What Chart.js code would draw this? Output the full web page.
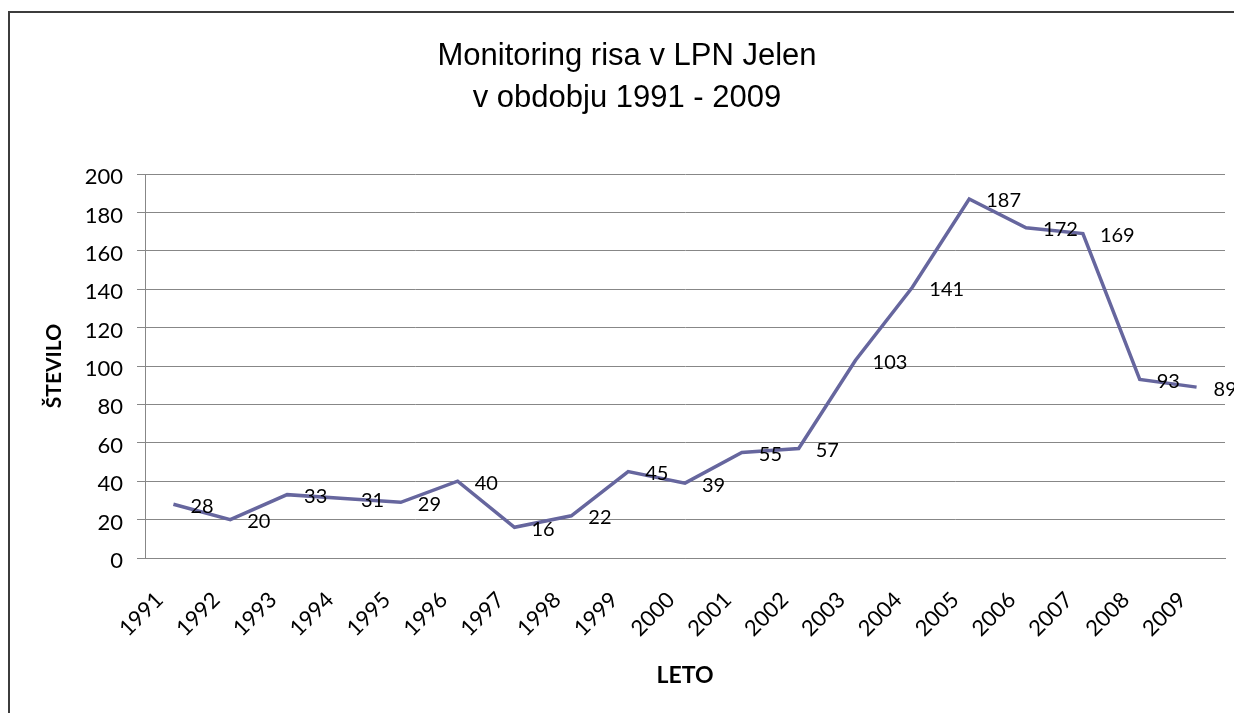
<!DOCTYPE html>
<html>
<head>
<meta charset="utf-8">
<script src="https://cdn.jsdelivr.net/npm/chart.js@4.4.1/dist/chart.umd.min.js"></script>
<style>
  html, body { margin: 0; padding: 0; background: #fff; overflow: hidden; width: 1234px; height: 713px; }
  #frame { position: absolute; left: 8px; top: 11px; width: 1300px; height: 800px;
           border-left: 2px solid #3c3c3c; border-top: 2px solid #3c3c3c; }
  #wrap { position: absolute; left: 0; top: 0; width: 1254px; height: 713px; }
</style>
</head>
<body>
<div id="frame"></div>
<div id="wrap"><canvas id="c"></canvas></div>
<script>
const years = ['1991','1992','1993','1994','1995','1996','1997','1998','1999','2000',
               '2001','2002','2003','2004','2005','2006','2007','2008','2009'];
const counts = [28, 20, 33, 31, 29, 40, 16, 22, 45, 39, 55, 57, 103, 141, 187, 172, 169, 93, 89];
const yTicks = [0, 20, 40, 60, 80, 100, 120, 140, 160, 180, 200];
const titleLines = ['Monitoring risa v LPN Jelen', 'v obdobju 1991 - 2009'];
const xTitle = 'LETO';
const yTitle = 'ŠTEVILO';

const FONT = 'Lato, "Open Sans", sans-serif';
const GRID = '#878787';

const valueLabels = {
  id: 'valueLabels',
  afterDatasetsDraw(chart) {
    const ctx = chart.ctx;
    const meta = chart.getDatasetMeta(0);
    ctx.save();
    ctx.font = '20px ' + FONT;
    ctx.fillStyle = '#000';
    ctx.textAlign = 'left';
    ctx.textBaseline = 'middle';
    meta.data.forEach((pt, i) => {
      ctx.fillText(String(counts[i]), pt.x + 17, pt.y + 2);
    });
    ctx.restore();
  }
};

new Chart(document.getElementById('c'), {
  type: 'line',
  data: {
    labels: years,
    datasets: [{
      data: counts,
      borderColor: '#66669e',
      borderWidth: 3.5,
      tension: 0,
      pointRadius: 0,
      pointHoverRadius: 0,
      fill: false
    }]
  },
  options: {
    responsive: true,
    maintainAspectRatio: false,
    devicePixelRatio: 1,
    animation: false,
    events: [],
    layout: { padding: { left: 29, right: 29, top: 0, bottom: 0 } },
    plugins: {
      legend: { display: false },
      tooltip: { enabled: false },
      title: {
        display: true,
        text: titleLines,
        color: '#000',
        font: { family: '"Liberation Sans", Arial, sans-serif', size: 31, weight: 'normal', lineHeight: 1.355 },
        padding: { top: 35, bottom: 55 }
      }
    },
    scales: {
      x: {
        type: 'category',
        offset: true,
        grid: { display: false, drawTicks: false },
        border: { display: true, color: GRID, width: 1 },
        ticks: {
          color: '#000',
          font: { family: FONT, size: 22 },
          minRotation: 45,
          maxRotation: 45,
          autoSkip: false,
          padding: 29,
          labelOffset: -14
        },
        title: {
          display: true,
          text: xTitle,
          color: '#000',
          font: { family: FONT, size: 23, weight: 'bold', lineHeight: 1.2 },
          padding: { top: 0, bottom: 24 }
        },
        afterFit(scale) { scale.height = 155; }
      },
      y: {
        min: 0,
        max: 200,
        afterBuildTicks(scale) { scale.ticks = yTicks.map(v => ({ value: v })); },
        grid: { color: GRID, lineWidth: 1, drawTicks: true, tickLength: 8 },
        border: { display: true, color: GRID, width: 1 },
        ticks: {
          color: '#000',
          font: { family: FONT, size: 22 },
          padding: 14,
          labelOffset: 3
        },
        title: {
          display: true,
          text: yTitle,
          color: '#000',
          font: { family: FONT, size: 21, weight: 'bold', lineHeight: 1.2 },
          padding: { top: 13, bottom: 0 }
        },
        afterFit(scale) { scale.width = 116; }
      }
    }
  },
  plugins: [valueLabels]
});
</script>
</body>
</html>
